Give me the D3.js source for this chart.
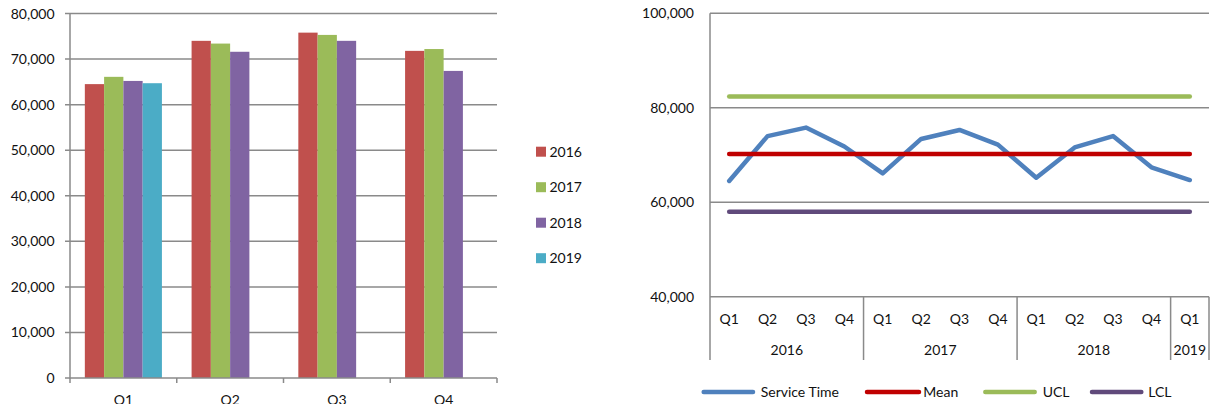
<!DOCTYPE html>
<html>
<head>
<meta charset="utf-8">
<script src="https://cdn.jsdelivr.net/npm/d3@7"></script>
<style>
  html, body { margin: 0; padding: 0; background: #fff; }
  svg { display: block; }
  text { font-family: Lato, "Noto Sans", sans-serif; font-size: 14px; fill: #111; }
</style>
</head>
<body>
<svg id="chart" width="1210" height="404"></svg>
<script>
// ---------- data ----------
const quarters = ["Q1", "Q2", "Q3", "Q4"];
const years = ["2016", "2017", "2018", "2019"];
const values2016 = [64500, 74000, 75800, 71800];
const values2017 = [66100, 73400, 75300, 72200];
const values2018 = [65200, 71600, 74000, 67400];
const values2019 = [64700, null, null, null];
const barTicks = [0, 10000, 20000, 30000, 40000, 50000, 60000, 70000, 80000];

const periodYears = ["2016", "2017", "2018", "2019"];
const periodQuarterCounts = [4, 4, 4, 1];
const meanValue = 70200;
const uclValue = 82400;
const lclValue = 58000;
const lineTicks = [40000, 60000, 80000, 100000];
const lineSeriesNames = ["Service Time", "Mean", "UCL", "LCL"];

const barColors = ["#C0504D", "#9BBB59", "#8064A2", "#4BACC6"];
const lineColors = ["#4F81BD", "#C00000", "#9BBB59", "#604A7B"];
const gridColor = "#8a8a8a";

const svg = d3.select("#chart");
const fmt = d3.format(",");

// ---------- left: clustered bar chart ----------
const yearValues = [values2016, values2017, values2018, values2019];
const L = { x0: 70, x1: 497, y0: 13.5, y1: 378 };
const yB = d3.scaleLinear().domain([0, 80000]).range([L.y1, L.y0]);
const xB = d3.scaleBand().domain(quarters).range([L.x0, L.x1]).padding(0);
const xYear = d3.scaleBand().domain(years).range([0, xB.bandwidth()]).paddingInner(0).paddingOuter(0.77);

const gL = svg.append("g");
// gridlines
gL.append("g").selectAll("line").data(barTicks.filter(d => d > 0)).join("line")
  .attr("x1", L.x0 - 5).attr("x2", L.x1)
  .attr("y1", d => yB(d)).attr("y2", d => yB(d))
  .attr("stroke", gridColor).attr("stroke-width", 1.5);
// y labels
gL.append("g").selectAll("text").data(barTicks).join("text")
  .attr("x", 54.5).attr("y", d => yB(d)).attr("dy", "0.36em")
  .attr("text-anchor", "end").text(d => fmt(d));
// bars
quarters.forEach((q, qi) => {
  years.forEach((yr, yi) => {
    const v = yearValues[yi][qi];
    if (v == null) return;
    gL.append("rect")
      .attr("x", xB(q) + xYear(yr))
      .attr("width", xYear.bandwidth())
      .attr("y", yB(v))
      .attr("height", yB(0) - yB(v))
      .attr("fill", barColors[yi]);
  });
});
// axes lines
gL.append("line").attr("x1", L.x0).attr("x2", L.x0).attr("y1", L.y0).attr("y2", L.y1 + 0.5)
  .attr("stroke", gridColor).attr("stroke-width", 1.5);
gL.append("line").attr("x1", L.x0 - 5).attr("x2", L.x1).attr("y1", L.y1).attr("y2", L.y1)
  .attr("stroke", gridColor).attr("stroke-width", 1.5);
// category ticks
const catEdges = quarters.map(q => xB(q)).concat([L.x1]);
gL.append("g").selectAll("line").data(catEdges).join("line")
  .attr("x1", d => d).attr("x2", d => d).attr("y1", L.y1).attr("y2", L.y1 + 5)
  .attr("stroke", gridColor).attr("stroke-width", 1.5);
gL.append("g").selectAll("text").data(quarters).join("text")
  .attr("x", d => xB(d) + xB.bandwidth() / 2).attr("y", 405)
  .attr("text-anchor", "middle").text(d => d);
// legend
const legL = gL.append("g");
years.forEach((yr, i) => {
  const cy = 151.7 + i * 35.5;
  legL.append("rect").attr("x", 536).attr("y", cy - 5).attr("width", 10).attr("height", 10).attr("fill", barColors[i]);
  legL.append("text").attr("x", 549.5).attr("y", cy).attr("dy", "0.36em").text(yr);
});

// ---------- right: control chart ----------
const periods = [];
periodYears.forEach((yr, i) => {
  for (let q = 0; q < periodQuarterCounts[i]; q++) periods.push({ year: yr, quarter: quarters[q], value: yearValues[i][q] });
});
const R = { x0: 710, x1: 1209, y0: 13.3, y1: 296.7, catBottom: 360 };
const yR = d3.scaleLinear().domain([40000, 100000]).range([R.y1, R.y0]);
const xR = d3.scaleBand().domain(d3.range(periods.length)).range([R.x0, R.x1]).padding(0);
const cx = i => xR(i) + xR.bandwidth() / 2;

const gR = svg.append("g");
gR.append("g").selectAll("line").data(lineTicks).join("line")
  .attr("x1", R.x0).attr("x2", R.x1)
  .attr("y1", d => yR(d)).attr("y2", d => yR(d))
  .attr("stroke", gridColor).attr("stroke-width", 1.5);
gR.append("g").selectAll("text").data(lineTicks).join("text")
  .attr("x", 694).attr("y", d => yR(d)).attr("dy", "0.36em")
  .attr("text-anchor", "end").text(d => fmt(d));
// vertical axis + year separators
const sepIdx = [0];
let acc = 0;
periodQuarterCounts.forEach(c => { acc += c; sepIdx.push(acc); });
const sepX = sepIdx.map(i => i < periods.length ? xR(i) : R.x1);
gR.append("line").attr("x1", R.x0).attr("x2", R.x0).attr("y1", R.y0).attr("y2", R.catBottom)
  .attr("stroke", gridColor).attr("stroke-width", 1.5);
gR.append("g").selectAll("line").data(sepX.slice(1)).join("line")
  .attr("x1", d => d).attr("x2", d => d).attr("y1", R.y1).attr("y2", R.catBottom)
  .attr("stroke", gridColor).attr("stroke-width", 1.5);
// quarter labels
gR.append("g").selectAll("text").data(periods).join("text")
  .attr("x", (d, i) => cx(i)).attr("y", 324)
  .attr("text-anchor", "middle").text(d => d.quarter);
// year labels
gR.append("g").selectAll("text").data(periodYears).join("text")
  .attr("x", (d, i) => (sepX[i] + sepX[i + 1]) / 2).attr("y", 355)
  .attr("text-anchor", "middle").text(d => d);

const lineGen = d3.line().x(d => cx(d.i)).y(d => yR(d.v));
const seriesData = [
  periods.map((p, i) => ({ i, v: p.value })),
  periods.map((p, i) => ({ i, v: meanValue })),
  periods.map((p, i) => ({ i, v: uclValue })),
  periods.map((p, i) => ({ i, v: lclValue }))
];
seriesData.forEach((s, k) => {
  gR.append("path").attr("d", lineGen(s)).attr("fill", "none")
    .attr("stroke", lineColors[k]).attr("stroke-width", 4.5)
    .attr("stroke-linecap", "round").attr("stroke-linejoin", "round");
});
// legend
const legendPos = [[701.7, 755, 760.7], [865, 921, 923.3], [983.3, 1036.7, 1042.7], [1090, 1143.3, 1148.3]];
lineSeriesNames.forEach((n, k) => {
  const [a, b, t] = legendPos[k];
  gR.append("line").attr("x1", a + 2).attr("x2", b - 2).attr("y1", 392).attr("y2", 392)
    .attr("stroke", lineColors[k]).attr("stroke-width", 4.5).attr("stroke-linecap", "round");
  gR.append("text").attr("x", t).attr("y", 392).attr("dy", "0.36em").text(n);
});
</script>
</body>
</html>
